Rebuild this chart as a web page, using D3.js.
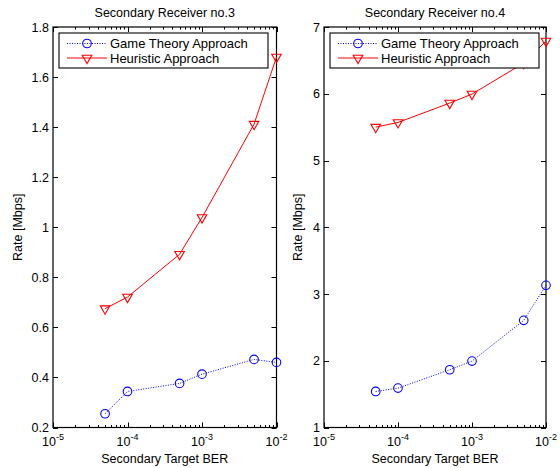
<!DOCTYPE html>
<head>
  <meta charset="utf-8">
  <script src="https://cdn.jsdelivr.net/npm/d3@7"></script>
</head>
<style>
  body { margin: 0; background: #fff; }
  svg { font-family: "Liberation Sans", Arial, sans-serif; }
</style>
<body>
  <svg id="chart" width="560" height="468"></svg>
</body>
<script>

var ber = [5e-5, 1e-4, 5e-4, 1e-3, 5e-3, 1e-2];

var game_rx3 = [0.255, 0.344, 0.376, 0.413, 0.472, 0.46];
var heur_rx3 = [0.675, 0.721, 0.892, 1.039, 1.412, 1.68];

var game_rx4 = [1.54, 1.59, 1.865, 1.995, 2.605, 3.13];
var heur_rx4 = [5.5, 5.57, 5.86, 5.995, 6.46, 6.79];

var x_ticks = [1e-5, 1e-4, 1e-3, 1e-2];
var x_exps = ['-5', '-4', '-3', '-2'];

var panels = [
  {title: 'Secondary Receiver no.3', game: game_rx3, heur: heur_rx3,
   ydom: [0.2, 1.8], yticks: [0.2, 0.4, 0.6, 0.8, 1, 1.2, 1.4, 1.6, 1.8],
   left: 53, right: 276.5, ylab_x: 22},
  {title: 'Secondary Receiver no.4', game: game_rx4, heur: heur_rx4,
   ydom: [1, 7], yticks: [1, 2, 3, 4, 5, 6, 7],
   left: 324, right: 546, ylab_x: 302}
];

var top_y = 27, bot_y = 427.5;
var fs = '12.5px';
var svg = d3.select('#chart');

panels.forEach(function(p) {
  var x = d3.scaleLog().domain([1e-5, 1e-2]).range([p.left, p.right]);
  var y = d3.scaleLinear().domain(p.ydom).range([bot_y, top_y]);
  var g = svg.append('g');

  // minor log ticks
  var minor = [];
  for (var e = -5; e < -2; e++) {
    for (var m = 2; m <= 9; m++) minor.push(m * Math.pow(10, e));
  }

  var ticks = g.append('g').attr('stroke', '#000').attr('stroke-width', 1);
  minor.forEach(function(v) {
    var xx = Math.round(x(v)) + 0.5;
    ticks.append('line').attr('x1', xx).attr('x2', xx).attr('y1', bot_y).attr('y2', bot_y - 2.5);
    ticks.append('line').attr('x1', xx).attr('x2', xx).attr('y1', top_y).attr('y2', top_y + 2.5);
  });
  x_ticks.forEach(function(v) {
    var xx = Math.round(x(v)) + 0.5;
    ticks.append('line').attr('x1', xx).attr('x2', xx).attr('y1', bot_y).attr('y2', bot_y - 5);
    ticks.append('line').attr('x1', xx).attr('x2', xx).attr('y1', top_y).attr('y2', top_y + 5);
  });
  p.yticks.forEach(function(v) {
    var yy = Math.round(y(v)) + 0.5;
    ticks.append('line').attr('x1', p.left).attr('x2', p.left + 5).attr('y1', yy).attr('y2', yy);
    ticks.append('line').attr('x1', p.right).attr('x2', p.right - 5).attr('y1', yy).attr('y2', yy);
  });

  // box
  g.append('rect')
    .attr('x', p.left).attr('y', top_y)
    .attr('width', p.right - p.left).attr('height', bot_y - top_y)
    .attr('fill', 'none').attr('stroke', '#000').attr('stroke-width', 1.2);

  // y tick labels
  g.selectAll('.ylab').data(p.yticks).enter().append('text')
    .attr('font-size', fs)
    .attr('x', p.left - 4).attr('y', function(d) { return y(d) + 4.5; })
    .attr('text-anchor', 'end')
    .text(function(d) { return d; });

  // x tick labels
  x_ticks.forEach(function(v, i) {
    var t = g.append('text').attr('font-size', fs)
      .attr('x', x(v)).attr('y', bot_y + 18).attr('text-anchor', 'middle');
    t.append('tspan').text('10');
    t.append('tspan').attr('dy', -6).attr('font-size', '9px').text(x_exps[i]);
  });

  g.append('text').attr('font-size', fs)
    .attr('x', (p.left + p.right) / 2).attr('y', 17).attr('text-anchor', 'middle')
    .text(p.title);
  g.append('text').attr('font-size', fs)
    .attr('x', (p.left + p.right) / 2).attr('y', bot_y + 35).attr('text-anchor', 'middle')
    .text('Secondary Target BER');
  g.append('text').attr('font-size', fs)
    .attr('transform', 'translate(' + p.ylab_x + ',' + ((top_y + bot_y) / 2) + ') rotate(-90)')
    .attr('text-anchor', 'middle')
    .text('Rate [Mbps]');

  var line = d3.line().x(function(d, i) { return x(ber[i]); }).y(function(d) { return y(d); });

  g.append('path').datum(p.game).attr('d', line)
    .attr('fill', 'none').attr('stroke', '#0000ff').attr('stroke-width', 1).attr('stroke-dasharray', '1,1.5');
  g.selectAll('.circ').data(p.game).enter().append('circle')
    .attr('cx', function(d, i) { return x(ber[i]); }).attr('cy', function(d) { return y(d); })
    .attr('r', 4.3).attr('fill', 'none').attr('stroke', '#0000ff').attr('stroke-width', 1.1);

  g.append('path').datum(p.heur).attr('d', line)
    .attr('fill', 'none').attr('stroke', '#ff0000').attr('stroke-width', 1);
  var tri = d3.symbol().type(d3.symbolTriangle).size(40);
  g.selectAll('.tri').data(p.heur).enter().append('path')
    .attr('d', tri)
    .attr('transform', function(d, i) { return 'translate(' + x(ber[i]) + ',' + y(d) + ') rotate(180)'; })
    .attr('fill', 'none').attr('stroke', '#ff0000').attr('stroke-width', 1.1);

  // legend
  var lx = p.left + 6, ly = 33, lw = 209, lh = 35;
  var lg = g.append('g');
  lg.append('rect').attr('x', lx).attr('y', ly).attr('width', lw).attr('height', lh)
    .attr('fill', '#fff').attr('stroke', '#000').attr('stroke-width', 1.1);
  var r1 = ly + 10.5, r2 = ly + 25;
  lg.append('line').attr('x1', lx + 8).attr('x2', lx + 48).attr('y1', r1).attr('y2', r1)
    .attr('stroke', '#0000ff').attr('stroke-dasharray', '1,1.5');
  lg.append('circle').attr('cx', lx + 28).attr('cy', r1).attr('r', 4.3)
    .attr('fill', 'none').attr('stroke', '#0000ff').attr('stroke-width', 1.1);
  lg.append('text').attr('font-size', '13px').attr('x', lx + 51).attr('y', r1 + 4.5).text('Game Theory Approach');
  lg.append('line').attr('x1', lx + 8).attr('x2', lx + 48).attr('y1', r2).attr('y2', r2)
    .attr('stroke', '#ff0000');
  lg.append('path').attr('d', tri).attr('transform', 'translate(' + (lx + 28) + ',' + r2 + ') rotate(180)')
    .attr('fill', 'none').attr('stroke', '#ff0000').attr('stroke-width', 1.1);
  lg.append('text').attr('font-size', '13px').attr('x', lx + 51).attr('y', r2 + 4.5).text('Heuristic Approach');
});

</script>
